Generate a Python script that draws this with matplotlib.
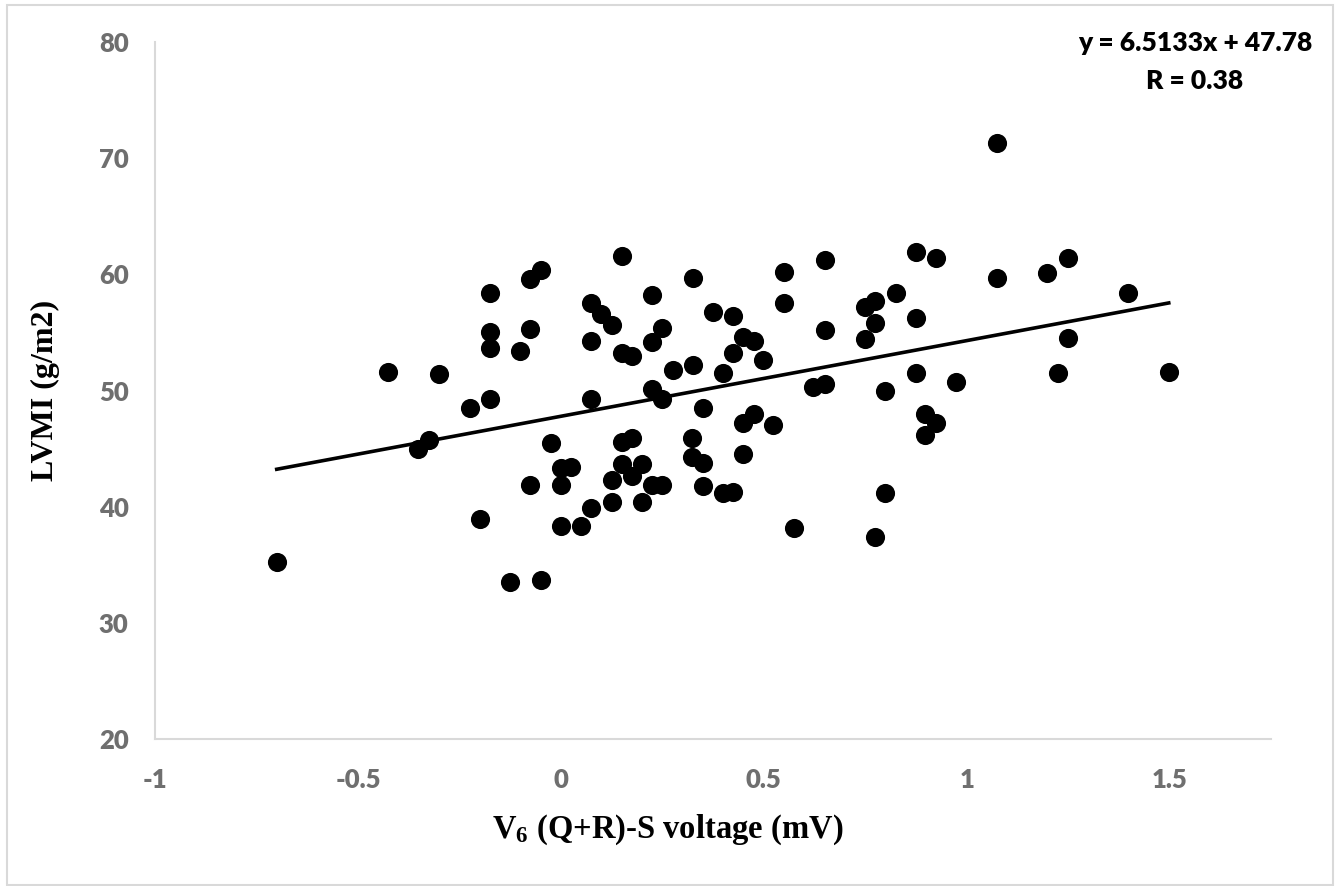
import matplotlib
matplotlib.use('Agg')
import matplotlib.pyplot as plt
from matplotlib.patches import Rectangle

# Data
voltage = [-0.70, -0.426, -0.30, -0.352, -0.325, -0.224, -0.175, -0.175, -0.175, -0.175,
           -0.101, -0.076, -0.076, -0.050, -0.200, -0.076, -0.025, -0.126, -0.049, 0.000,
           0.025, 0.000, 0.000, 0.049, 0.074, 0.074, 0.074, 0.074, 0.099, 0.125,
           0.150, 0.150, 0.175, 0.150, 0.175, 0.150, 0.125, 0.125, 0.175, 0.200,
           0.200, 0.224, 0.249, 0.224, 0.249, 0.224, 0.249, 0.224, 0.276, 0.325,
           0.325, 0.323, 0.323, 0.350, 0.350, 0.350, 0.374, 0.399, 0.399, 0.424,
           0.424, 0.424, 0.448, 0.475, 0.498, 0.448, 0.475, 0.448, 0.522, 0.549,
           0.549, 0.574, 0.621, 0.650, 0.650, 0.650, 0.749, 0.773, 0.773, 0.749,
           0.825, 0.874, 0.874, 0.874, 0.798, 0.798, 0.773, 0.897, 0.924, 0.897,
           0.924, 0.973, 1.074, 1.074, 1.197, 1.249, 1.249, 1.224, 1.398, 1.498]
lvmi = [35.2, 51.6, 51.4, 45.0, 45.7, 48.5, 49.3, 58.4, 55.0, 53.7,
        53.4, 55.3, 59.6, 60.4, 38.9, 41.9, 45.5, 33.5, 33.7, 43.3,
        43.4, 41.9, 38.3, 38.3, 39.9, 49.3, 54.3, 57.5, 56.6, 55.6,
        61.6, 53.2, 53.0, 45.6, 45.9, 43.7, 42.3, 40.4, 42.6, 43.7,
        40.4, 41.9, 41.9, 50.1, 49.3, 54.2, 55.4, 58.2, 51.8, 59.7,
        52.2, 45.9, 44.3, 43.8, 41.8, 48.5, 56.8, 51.5, 41.2, 41.3,
        56.4, 53.2, 54.6, 54.3, 52.6, 47.2, 48.0, 44.5, 47.0, 60.2,
        57.5, 38.2, 50.3, 50.6, 61.2, 55.2, 57.2, 57.7, 55.8, 54.4,
        58.4, 61.9, 56.2, 51.5, 50.0, 41.2, 37.4, 48.0, 47.2, 46.2,
        61.4, 50.7, 71.3, 59.7, 60.1, 61.4, 54.5, 51.5, 58.4, 51.6]

slope = 6.5133
intercept = 47.78
r_value = 0.38

x_ticks = [-1, -0.5, 0, 0.5, 1, 1.5]
x_tick_labels = ['-1', '-0.5', '0', '0.5', '1', '1.5']
y_ticks = [20, 30, 40, 50, 60, 70, 80]

plt.rcParams['mathtext.default'] = 'regular'

fig = plt.figure(figsize=(13.44, 8.86), dpi=100)
ax = fig.add_axes([0.1153, 0.1659, 0.8304, 0.7867])

# outer light frame
fig.patches.append(Rectangle((0.0052, 0.0011), 0.9866, 0.9932, transform=fig.transFigure,
                             fill=False, edgecolor='#d9d9d9', linewidth=1.5))

ax.scatter(voltage, lvmi, s=190, color='black', zorder=3, linewidths=0)

# trendline
x0, x1 = min(voltage), max(voltage)
ax.plot([x0, x1], [slope * x0 + intercept, slope * x1 + intercept], color='black',
        linewidth=2.6, zorder=4)

ax.set_xlim(-1, 1.75)
ax.set_ylim(20, 80)
ax.set_xticks(x_ticks)
ax.set_xticklabels(x_tick_labels)
ax.set_yticks(y_ticks)

for side in ['top', 'right']:
    ax.spines[side].set_visible(False)
for side in ['left', 'bottom']:
    ax.spines[side].set_color('#d9d9d9')
    ax.spines[side].set_linewidth(1.5)

ax.tick_params(axis='both', length=0, labelcolor='#6f6f6f', labelsize=18.5)
ax.tick_params(axis='x', pad=21)
ax.tick_params(axis='y', pad=19)
for lbl in ax.get_xticklabels() + ax.get_yticklabels():
    lbl.set_fontfamily('Lato')
    lbl.set_fontweight('heavy')

ax.set_xlabel('V$_6$ (Q+R)-S voltage (mV)', fontfamily='Liberation Serif',
              fontweight='bold', fontsize=23.5)
ax.xaxis.set_label_coords(0.459, -0.105)
ax.set_ylabel('LVMI (g/m2)', fontfamily='Liberation Serif', fontweight='bold',
              fontsize=23, labelpad=28)

fig.text(0.889, 0.951, 'y = %.4fx + %.2f' % (slope, intercept), fontfamily='Lato',
         fontweight='heavy', fontsize=19, ha='center', va='center')
fig.text(0.889, 0.909, 'R = %.2f' % r_value, fontfamily='Lato',
         fontweight='heavy', fontsize=19, ha='center', va='center')

fig.savefig('out.png', dpi=100, facecolor='white')
